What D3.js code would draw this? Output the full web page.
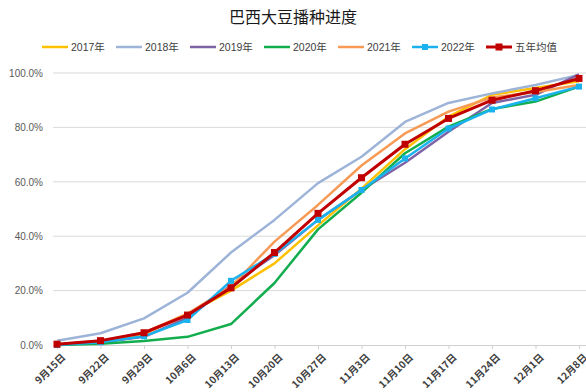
<!DOCTYPE html>
<html>
<head>
<meta charset="utf-8">
<script src="https://cdn.jsdelivr.net/npm/d3@7"></script>
<style>
  html, body { margin: 0; padding: 0; background: #fff; }
  svg { display: block; }
</style>
</head>
<body>
<svg id="chart" width="586" height="392"></svg>
<script>
// Planting dates (weekly report dates)
const dates = ["9月15日","9月22日","9月29日","10月6日","10月13日","10月20日","10月27日",
               "11月3日","11月10日","11月17日","11月24日","12月1日","12月8日"];

// Share of soybean area planted, percent
const y2017 = [0.2, 1.2, 4.0, 11.5, 20.0, 30.0, 44.0, 57.5, 72.0, 84.0, 92.0, 94.5, 97.0];
const y2018 = [1.6, 4.3, 9.8, 19.2, 34.0, 46.0, 59.5, 69.2, 82.0, 89.0, 92.5, 95.6, 99.3];
const y2019 = [0.0, 1.0, 3.0, 10.0, 22.0, 33.0, 46.0, 57.0, 67.0, 78.4, 89.0, 92.0, 99.5];
const y2020 = [0.0, 0.5, 1.5, 3.0, 7.7, 22.8, 42.5, 56.0, 70.5, 80.3, 86.8, 89.5, 95.0];
const y2021 = [0.3, 1.5, 4.5, 11.5, 21.5, 38.0, 51.5, 66.0, 77.8, 85.8, 91.0, 93.0, 95.6];
const y2022 = [0.0, 1.0, 3.2, 9.2, 23.6, 33.5, 46.0, 57.0, 68.6, 79.6, 86.6, 90.7, 95.0];
const avg5  = [0.3, 1.6, 4.5, 11.0, 21.0, 34.0, 48.4, 61.5, 73.8, 83.3, 90.0, 93.5, 98.0];

const yTicks = [0, 20, 40, 60, 80, 100];

const series = [
  { name: "2017年", values: y2017, color: "#FFC000", width: 2.5, marker: null },
  { name: "2018年", values: y2018, color: "#9DB4D8", width: 2.5, marker: null },
  { name: "2019年", values: y2019, color: "#7E62A6", width: 2.5, marker: null },
  { name: "2020年", values: y2020, color: "#12AE4E", width: 2.5, marker: null },
  { name: "2021年", values: y2021, color: "#F79A55", width: 2.5, marker: null },
  { name: "2022年", values: y2022, color: "#1AB2EE", width: 2.5, marker: 6 },
  { name: "五年均值", values: avg5,  color: "#C00000", width: 3,   marker: 7 }
];

const svg = d3.select("#chart");
const font = "'Liberation Sans', 'Noto Sans CJK SC', sans-serif";

const x = d3.scalePoint().domain(dates).range([57, 579]).padding(0);
const y = d3.scaleLinear().domain([0, 100]).range([345, 73]);

// Title
svg.append("text")
  .attr("x", 293).attr("y", 23)
  .attr("text-anchor", "middle")
  .attr("font-family", "'Noto Sans CJK SC', sans-serif")
  .attr("font-size", 16)
  .attr("fill", "#1a1a1a")
  .text("巴西大豆播种进度");

// Horizontal gridlines
svg.append("g").selectAll("line")
  .data(yTicks.filter(d => d > 0))
  .join("line")
  .attr("x1", 53).attr("x2", 586)
  .attr("y1", d => y(d)).attr("y2", d => y(d))
  .attr("stroke", "#d9d9d9").attr("stroke-width", 1);

// Y axis labels
const yAxis = d3.axisLeft(y).tickValues(yTicks).tickSize(0).tickPadding(10)
  .tickFormat(d => d3.format(".1f")(d) + "%");
const gy = svg.append("g").attr("transform", "translate(53,0)").call(yAxis);
gy.select(".domain").remove();
gy.selectAll("text")
  .attr("font-family", font).attr("font-size", 10).attr("fill", "#595959");

// X axis with ticks at each date
const xAxis = d3.axisBottom(x).tickSize(4).tickSizeOuter(0).tickFormat("");
const gx = svg.append("g").attr("transform", "translate(0,345)").call(xAxis);
gx.select(".domain").attr("d", "M53,0.5H586").attr("stroke", "#d0d0d0");
gx.selectAll(".tick line").attr("stroke", "#d0d0d0");

svg.append("g").selectAll("text")
  .data(dates)
  .join("text")
  .attr("transform", d => `translate(${x(d) + 4},${353}) rotate(-45)`)
  .attr("text-anchor", "end")
  .attr("dy", "0.7em")
  .attr("font-family", "'Noto Sans CJK SC', sans-serif")
  .attr("font-size", 10)
  .attr("font-weight", "bold")
  .attr("fill", "#404040")
  .text(d => d);

// Series lines
const line = d3.line()
  .x((d, i) => x(dates[i]))
  .y(d => y(d));

const gs = svg.append("g");
series.forEach(s => {
  gs.append("path")
    .datum(s.values)
    .attr("d", line)
    .attr("fill", "none")
    .attr("stroke", s.color)
    .attr("stroke-width", s.width)
    .attr("stroke-linejoin", "round");
  if (s.marker) {
    gs.append("g").selectAll("rect")
      .data(s.values)
      .join("rect")
      .attr("x", (d, i) => x(dates[i]) - s.marker / 2)
      .attr("y", d => y(d) - s.marker / 2)
      .attr("width", s.marker).attr("height", s.marker)
      .attr("fill", s.color);
  }
});

// Legend
const legendX = [42, 116, 190, 264, 338, 412, 486];
const lg = svg.append("g").selectAll("g")
  .data(series)
  .join("g")
  .attr("transform", (d, i) => `translate(${legendX[i]},47)`);
lg.append("line")
  .attr("x1", 0).attr("x2", 26)
  .attr("stroke", d => d.color).attr("stroke-width", d => d.width);
lg.filter(d => d.marker).append("rect")
  .attr("x", d => 13 - d.marker / 2).attr("y", d => -d.marker / 2)
  .attr("width", d => d.marker).attr("height", d => d.marker)
  .attr("fill", d => d.color);
lg.append("text")
  .attr("x", 29).attr("dy", "0.35em")
  .attr("font-family", font)
  .attr("font-size", 10.5)
  .attr("fill", "#404040")
  .text(d => d.name);
</script>
</body>
</html>
